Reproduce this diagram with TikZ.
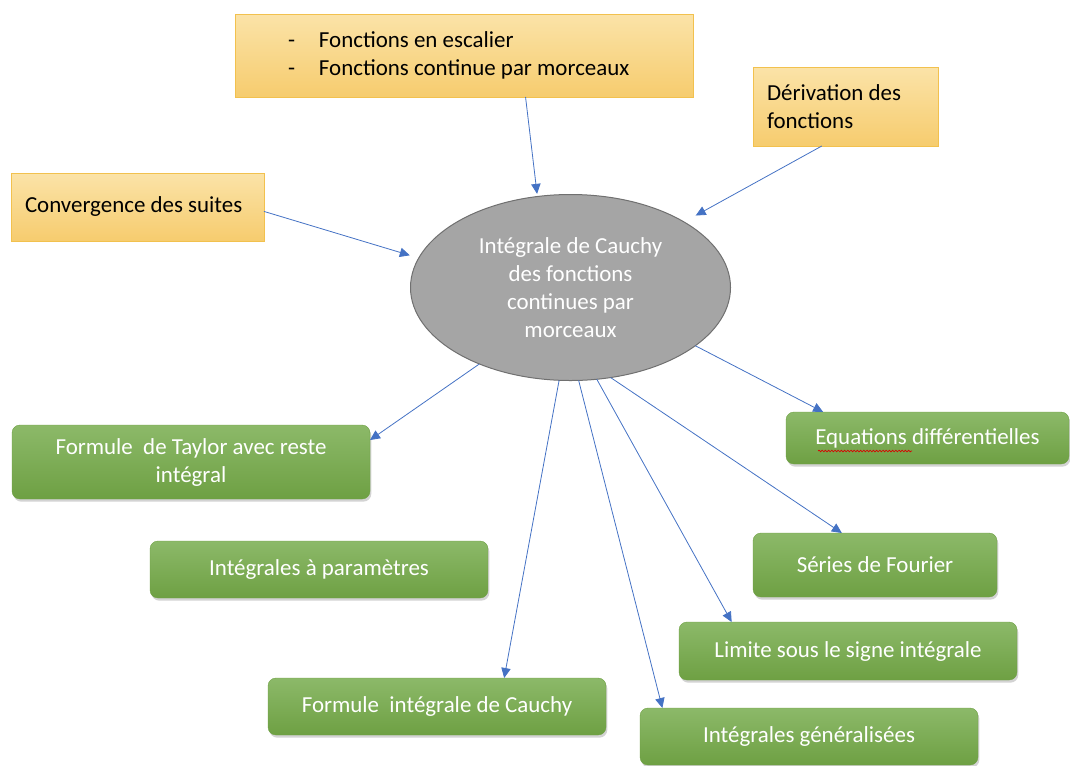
\documentclass[tikz,border=0pt]{standalone}
\usepackage{fontspec}
\setmainfont{Carlito}
\usetikzlibrary{shapes.geometric,arrows.meta,shadows,decorations.pathmorphing}
\definecolor{fleche}{HTML}{4472C4}
\definecolor{jauneh}{HTML}{FBE3A8}
\definecolor{jauneb}{HTML}{F6CC6E}
\definecolor{bordjaune}{HTML}{F2C14E}
\definecolor{verth}{HTML}{8CB969}
\definecolor{vertb}{HTML}{6EA043}
\definecolor{gris}{HTML}{A5A5A5}
\definecolor{bordgris}{HTML}{707070}
\begin{document}
\begin{tikzpicture}[x=0.75pt, y=-0.75pt,
	jaune/.style={rectangle, draw=bordjaune, line width=0.6pt, top color=jauneh, bottom color=jauneb, align=flush left, inner ysep=0pt, outer sep=0pt, font=\fontsize{17.2}{21}\selectfont},
	vert/.style={rectangle, rounded corners=6pt, top color=verth, bottom color=vertb, draw=vertb, line width=0.3pt, text=white, align=center, inner sep=0pt, outer sep=0pt, minimum width=253.5pt, minimum height=42.75pt, drop shadow={opacity=0.35, shadow xshift=1pt, shadow yshift=-2pt}, font=\fontsize{17.2}{21}\selectfont},
	fl/.style={fleche, line width=0.6pt, -{Triangle[length=7.5pt,width=7pt]}}]
	\useasboundingbox (0,0) rectangle (1070,765);

	\node[jaune, minimum width=343.5pt, minimum height=62.25pt, text width=264pt, inner xsep=39.75pt] (escalier) at (464,55.5) {\makebox[23.25pt][l]{-}Fonctions en escalier\\\makebox[23.25pt][l]{-}Fonctions continue par morceaux};
	\node[jaune, minimum width=138.75pt, minimum height=59.25pt, text width=117.75pt, inner xsep=10.5pt] (derivation) at (845.5,106.5) {Dérivation des\\fonctions};
	\node[jaune, minimum width=189.75pt, minimum height=51pt, text width=168.75pt, inner xsep=10.5pt] (convergence) at (137.5,207) {Convergence des suites};

	\node[ellipse, fill=gris, draw=bordgris, line width=0.75pt, minimum width=240pt, minimum height=139.5pt, inner sep=0pt, outer sep=0pt, text=white, align=center, font=\fontsize{17.2}{21}\selectfont] (cauchy) at (570.5,287.5) {Intégrale de Cauchy\\des fonctions\\continues par\\morceaux};

	\node[vert, minimum width=268.5pt, minimum height=55.5pt] (taylor) at (191,462) {Formule~ de Taylor avec reste\\intégral};
	\node[vert] (parametres) at (319,569.5) {Intégrales à paramètres};
	\node[vert, minimum width=212.25pt, minimum height=39pt] (equadiff) at (927.5,438) {Equations différentielles};
	\node[vert, minimum width=183pt, minimum height=48pt] (fourier) at (875,565) {Séries de Fourier};
	\node[vert, minimum height=43.5pt] (limite) at (848,651) {Limite sous le signe intégrale};
	\node[vert] (formule) at (437,706.5) {Formule~ intégrale de Cauchy};
	\node[vert] (generalisees) at (809,736.5) {Intégrales généralisées};
	\draw[red!85!black, line width=0.5pt, decorate, decoration={snake, segment length=2.4pt, amplitude=0.6pt}] (818,451) -- (912,451);

	\draw[fl, shorten >=2pt] (escalier.-34.2) -- (cauchy.110);
	\draw[fl, shorten >=10pt] (derivation.239.2) -- (cauchy.30);
	\draw[fl, shorten >=7pt] (convergence.-2) -- (cauchy.169);
	\draw[fl] (cauchy.220) -- (taylor.7.6);
	\draw[fl] (cauchy.-25) -- (equadiff.166.4);
	\draw[fl] (cauchy.263.5) -- (formule.23.4);
	\draw[fl] (cauchy.275.8) -- (generalisees.169.2);
	\draw[fl] (cauchy.286) -- (limite.166.4);
	\draw[fl] (cauchy.294.2) -- (fourier.136.7);
\end{tikzpicture}
\end{document}
